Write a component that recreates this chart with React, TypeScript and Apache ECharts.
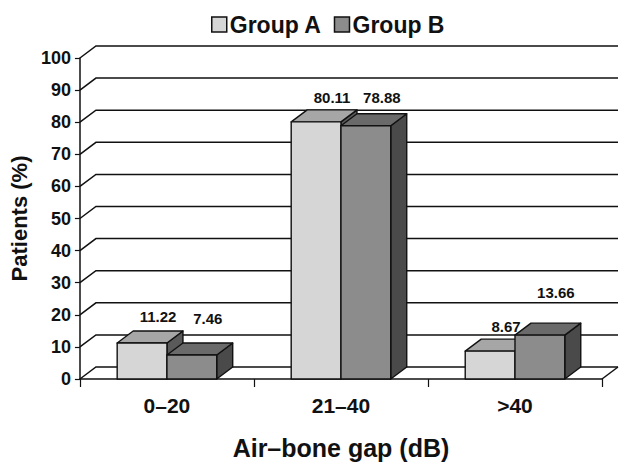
import React, { useEffect, useRef } from "react";
import * as echarts from "echarts";

const categories = ["0–20", "21–40", ">40"];
const groupA = [11.22, 80.11, 8.67];
const groupB = [7.46, 78.88, 13.66];
const yTicks = [0, 10, 20, 30, 40, 50, 60, 70, 80, 90, 100];

// layout (not data)
const DX = 16;
const DY = 12;
const BAR_FRAC = 0.286;
const liftA = [14, 12, 13];
const liftB = [25, 16, 31];
const FONT = "'Liberation Sans', Arial, Helvetica, sans-serif";
const LINE = "#111";

const colorsA = { front: "#d6d6d6", top: "#a6a6a6", side: "#5a5a5a" };
const colorsB = { front: "#8c8c8c", top: "#6a6a6a", side: "#4a4a4a" };

function barRenderer(which: number, colors: any, lifts: number[]) {
  return (params: any, api: any) => {
    const ci = api.value(0);
    const v = api.value(1);
    const top = api.coord([ci, v]);
    const base = api.coord([ci, 0]);
    const band = api.size([1, 0])[0];
    const w = band * BAR_FRAC;
    const x0 = which === 0 ? top[0] - w : top[0];
    const x1 = x0 + w;
    const yT = top[1];
    const yB = base[1];
    const stroke = { stroke: LINE, lineWidth: 1.4, lineJoin: "round" };
    return {
      type: "group",
      children: [
        {
          type: "polygon",
          shape: { points: [[x1, yB], [x1 + DX, yB - DY], [x1 + DX, yT - DY], [x1, yT]] },
          style: { fill: colors.side, ...stroke },
        },
        {
          type: "polygon",
          shape: { points: [[x0, yT], [x1, yT], [x1 + DX, yT - DY], [x0 + DX, yT - DY]] },
          style: { fill: colors.top, ...stroke },
        },
        {
          type: "rect",
          shape: { x: x0, y: yT, width: w, height: yB - yT },
          style: { fill: colors.front, ...stroke },
        },
        {
          type: "text",
          x: (x0 + x1) / 2 + DX,
          y: yT - DY - lifts[params.dataIndex],
          style: {
            text: v.toFixed(2),
            fill: "#111",
            font: `bold 15px ${FONT}`,
            align: "center",
            verticalAlign: "middle",
          },
        },
      ],
    };
  };
}

function wallRenderer(params: any, api: any) {
  const v = api.value(1);
  const y = api.coord([0, v])[1];
  const left = params.coordSys.x;
  const right = left + params.coordSys.width;
  const children: any[] = [
    {
      type: "polyline",
      shape: { points: [[left, y], [left + DX, y - DY], [right + DX, y - DY]] },
      style: { stroke: LINE, lineWidth: 1.5, fill: "none" },
    },
  ];
  if (v === 0) {
    children.push({
      type: "line",
      shape: { x1: right, y1: y, x2: right + DX, y2: y - DY },
      style: { stroke: LINE, lineWidth: 1.5 },
    });
  }
  return { type: "group", children };
}

export default function App() {
  const ref = useRef<HTMLDivElement>(null);
  useEffect(() => {
    if (!ref.current) return;
    const chart = echarts.init(ref.current, null, { renderer: "svg" });
    chart.setOption({
      animation: false,
      backgroundColor: "#fff",
      legend: {
        top: 8,
        left: 206,
        icon: "rect",
        itemWidth: 15,
        itemHeight: 15,
        itemGap: 12,
        textStyle: { fontFamily: FONT, fontWeight: "bold", fontSize: 23, color: "#111", padding: [0, 0, 0, -2] },
        data: [
          { name: "Group A", itemStyle: { color: colorsA.front, borderColor: LINE, borderWidth: 1.5 } },
          { name: "Group B", itemStyle: { color: colorsB.front, borderColor: LINE, borderWidth: 1.5 } },
        ],
      },
      grid: { left: 77, right: 19, top: 58, bottom: 87 },
      xAxis: {
        type: "category",
        data: categories,
        name: "Air–bone gap (dB)",
        nameLocation: "middle",
        nameGap: 56,
        nameTextStyle: { fontFamily: FONT, fontWeight: "bold", fontSize: 25, color: "#111" },
        axisLine: { show: true, lineStyle: { color: LINE, width: 1.5 } },
        axisTick: { show: true, length: 8, lineStyle: { color: LINE, width: 1.2 } },
        axisLabel: {
          margin: 16,
          fontFamily: FONT,
          fontWeight: "bold",
          fontSize: 21,
          color: "#111",
        },
        splitLine: { show: false },
      },
      yAxis: {
        type: "value",
        min: 0,
        max: 100,
        interval: 10,
        name: "Patients (%)",
        nameLocation: "middle",
        nameRotate: 90,
        nameGap: 44,
        nameTextStyle: { fontFamily: FONT, fontWeight: "bold", fontSize: 22, color: "#111", padding: [0, 0, 0, 0] },
        axisLine: { show: true, lineStyle: { color: LINE, width: 1.5 } },
        axisTick: { show: true, length: 5, lineStyle: { color: LINE, width: 1.2 } },
        axisLabel: { margin: 9, fontFamily: FONT, fontWeight: "bold", fontSize: 18, color: "#111" },
        splitLine: { show: false },
      },
      series: [
        {
          type: "custom",
          name: "wall",
          silent: true,
          clip: false,
          z: 1,
          renderItem: wallRenderer,
          data: yTicks.map((t) => [0, t]),
        },
        {
          type: "custom",
          name: "Group A",
          clip: false,
          z: 2,
          itemStyle: { color: colorsA.front },
          renderItem: barRenderer(0, colorsA, liftA),
          data: groupA.map((v, i) => [i, v]),
        },
        {
          type: "custom",
          name: "Group B",
          clip: false,
          z: 3,
          itemStyle: { color: colorsB.front },
          renderItem: barRenderer(1, colorsB, liftB),
          data: groupB.map((v, i) => [i, v]),
        },
      ],
    });
    return () => chart.dispose();
  }, []);
  return (
    <div
      ref={ref}
      style={{ position: "fixed", left: 0, top: 0, width: 621, height: 466, background: "#fff" }}
    />
  );
}
